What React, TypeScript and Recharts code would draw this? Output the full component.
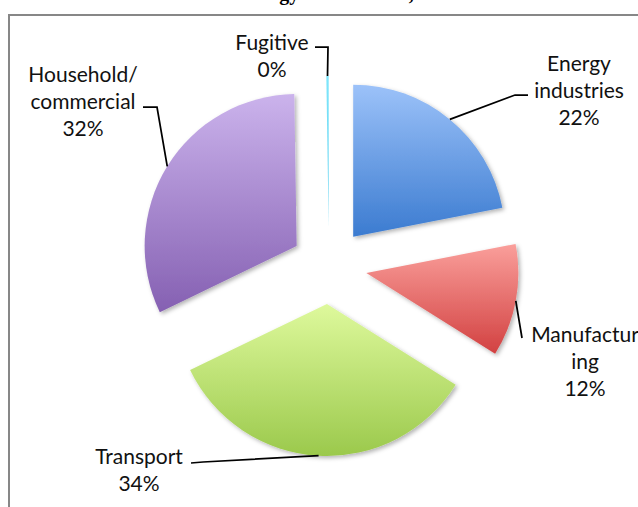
import React from 'react';
import { PieChart, Pie, Cell } from 'recharts';

// ---- data ----
const CATEGORIES = ['Energy industries', 'Manufacturing', 'Transport', 'Household/commercial', 'Fugitive'];
const SHARES = [22, 12, 34, 32, 0.25];
const LABEL_LINES = [
  ['Energy', 'industries'],
  ['Manufactur', 'ing'],
  ['Transport'],
  ['Household/', 'commercial'],
  ['Fugitive'],
];
const TITLE = 'GHG Emissions from Energy Combustion, 2010';

// ---- styles / layout ----
const GRADIENTS = [
  ['#9cc2f9', '#3b7bd0'],
  ['#fa9f9b', '#d24141'],
  ['#def99c', '#9bc94c'],
  ['#cbb3ec', '#8560b2'],
  ['#7fe6fb', '#5fcfee'],
];
const LAYOUT = [
  { tx: 579, ty: 71, leader: [[515, 95], [528, 95]] },
  { tx: 585, ty: 342, leader: [[522, 338]] },
  { tx: 139, ty: 464, leader: [[203, 462], [191, 463]] },
  { tx: 83, ty: 82, leader: [[157, 107], [143, 107]] },
  { tx: 272, ty: 50, leader: [[328, 47], [315, 47]] },
];
const W = 638;
const H = 507;
const CX = 324;
const CY = 261;
const R = 152;
const EXPLODE = 38;
const LINE_H = 27;
const RAD = Math.PI / 180;

const data = CATEGORIES.map((name, i) => ({ name, value: SHARES[i] }));
const total = SHARES.reduce((a, b) => a + b, 0);

const offsets = (() => {
  let cum = 0;
  return SHARES.map((v) => {
    const mid = cum + v / 2;
    cum += v;
    const ang = 90 - (mid / total) * 360;
    return { dx: EXPLODE * Math.cos(ang * RAD), dy: -EXPLODE * Math.sin(ang * RAD) };
  });
})();

const makeLabel = (j: number) => (props: any) => {
  if (props.index !== j) return null;
  const { cx, cy, midAngle, outerRadius } = props;
  const sx = cx + outerRadius * Math.cos(-midAngle * RAD);
  const sy = cy + outerRadius * Math.sin(-midAngle * RAD);
  const L = LAYOUT[j];
  const pts = [[sx, sy], ...L.leader].map((p) => p.join(',')).join(' ');
  const pct = Math.round((SHARES[j] / total) * 100);
  const lines = [...LABEL_LINES[j], `${pct}%`];
  return (
    <g key={`lab-${j}`}>
      <polyline points={pts} fill="none" stroke="#000" strokeWidth={1.75} />
      <text x={L.tx} y={L.ty} textAnchor="middle" fontFamily="Lato" fontSize={21} fill="#111">
        {lines.map((t, k) => (
          <tspan key={k} x={L.tx} dy={k === 0 ? 0 : LINE_H}>
            {t}
          </tspan>
        ))}
      </text>
    </g>
  );
};

export default function App() {
  return (
    <div
      style={{
        position: 'fixed',
        left: 0,
        top: 0,
        width: W,
        height: H,
        overflow: 'hidden',
        background: '#fff',
      }}
    >
      <div
        style={{
          position: 'absolute',
          left: 8,
          top: 14,
          width: 700,
          height: 600,
          border: '2px solid #878787',
          boxSizing: 'border-box',
        }}
      />
      <svg width={W} height={30} style={{ position: 'absolute', left: 0, top: 0 }}>
        <text x={48} y={0} fontFamily="Liberation Serif" fontWeight="bold" fontSize={20} fill="#000">
          {TITLE}
        </text>
      </svg>
      <div style={{ position: 'absolute', left: 0, top: 0 }}>
        <PieChart width={W} height={H}>
          <defs>
            {GRADIENTS.map((g, i) => (
              <linearGradient key={i} id={`grad${i}`} x1="0" y1="0" x2="0" y2="1">
                <stop offset="0%" stopColor={g[0]} />
                <stop offset="100%" stopColor={g[1]} />
              </linearGradient>
            ))}
            <filter id="shadow" x="-20%" y="-20%" width="140%" height="140%">
              <feDropShadow dx="2" dy="2" stdDeviation="2" floodColor="#000" floodOpacity="0.3" />
            </filter>
          </defs>
          {data.map((_, j) => (
            <Pie
              key={j}
              data={data}
              dataKey="value"
              nameKey="name"
              cx={CX + offsets[j].dx}
              cy={CY + offsets[j].dy}
              outerRadius={R}
              startAngle={90}
              endAngle={-270}
              stroke="none"
              isAnimationActive={false}
              labelLine={false}
              label={makeLabel(j)}
            >
              {data.map((d, i) => (
                <Cell
                  key={d.name}
                  fill={i === j ? `url(#grad${i})` : 'none'}
                  stroke="none"
                  filter={i === j && i !== 4 ? 'url(#shadow)' : undefined}
                />
              ))}
            </Pie>
          ))}
        </PieChart>
      </div>
    </div>
  );
}
